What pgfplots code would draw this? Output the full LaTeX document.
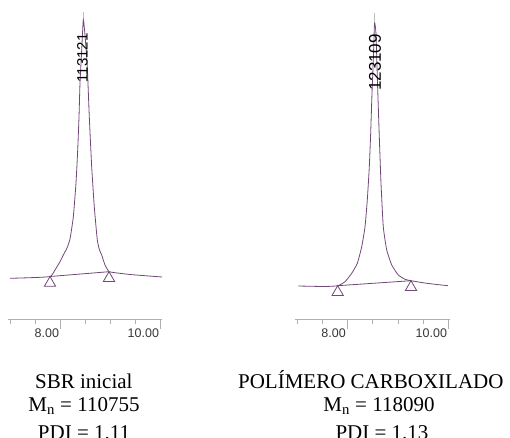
\documentclass[border=0pt]{standalone}
\usepackage{fontspec}
\setmainfont{Liberation Serif}
\newfontfamily\arial{Liberation Sans}
\usepackage{pgfplots}
\usepackage{pgfplotstable}
\pgfplotsset{compat=1.18}

\definecolor{trace}{RGB}{112,72,118}
\definecolor{axisgray}{RGB}{175,175,175}
\definecolor{pickgray}{RGB}{190,190,190}
\definecolor{labgray}{RGB}{55,55,55}

% SBR inicial: retention time (min) vs signal
\pgfplotstableread{
t y
6.986 40.7
7.386 41.3
7.786 42.5
7.886 49
7.986 57.3
8.052 64
8.126 71
8.186 80
8.252 102
8.306 136
8.340 169
8.366 202
8.386 236
8.420 269
8.452 299
8.486 284
8.532 252
8.572 202
8.620 152
8.672 112
8.732 79
8.776 69
8.820 64
8.886 54
8.966 47.3
9.026 46.7
9.386 44.5
10.026 42
}\sbrtrace

\pgfplotstableread{
t y
7.786 42.5
8.966 47.3
}\sbrbase

% polimero carboxilado
\pgfplotstableread{
t y
7.028 33
7.555 32.5
7.806 33.3
7.951 37.3
8.083 45.7
8.194 55.7
8.281 72.3
8.346 92.3
8.391 119
8.431 152.3
8.458 185.7
8.484 225.7
8.510 259
8.534 296
8.563 285
8.593 235.7
8.626 185.7
8.662 135.7
8.707 92.3
8.775 69
8.874 54
9.004 44
9.136 39.7
9.255 38.3
9.565 35.7
9.986 33.3
}\carbtrace

\pgfplotstableread{
t y
7.806 33.3
9.255 38.3
}\carbbase

\pgfplotsset{gpc/.style={
    scale only axis, clip=false,
    ymin=0, ymax=319, height=319pt,
    axis x line=bottom, axis y line=none,
    x axis line style={axisgray, -, line width=0.8pt},
    xtick={8,10}, xticklabels={8.00,10.00},
    minor xtick={7,7.5,8.5,9,9.5},
    tick align=outside,
    major tick length=10pt, minor tick length=5pt,
    tick style={axisgray, line width=0.7pt},
    xticklabel style={font=\arial\fontsize{12.5}{14}\selectfont, text=labgray,
        anchor=north east, inner sep=0pt, xshift=-1.5pt},
}}

\begin{document}
\begin{tikzpicture}
\useasboundingbox (0,0) rectangle (510pt,437pt);

\begin{axis}[gpc, at={(8pt,118pt)}, anchor=south west,
    width=154pt, xmin=6.946, xmax=10.026]
\draw[pickgray, line width=0.7pt] (axis cs:8.452,299) -- (axis cs:8.452,307.3);
\addplot[trace, line width=0.8pt, smooth, tension=0.3] table {\sbrtrace};
\addplot[trace, line width=0.8pt] table {\sbrbase};
\addplot[only marks, trace, mark=triangle, mark size=6.5pt,
    mark options={yshift=-6.5pt, line width=0.8pt, fill=white}] table {\sbrbase};
\node[rotate=90, inner sep=0pt, font=\arial\fontsize{15}{16}\selectfont]
    at (axis cs:8.436,261) {113121};
\end{axis}

\begin{axis}[gpc, at={(295pt,118pt)}, anchor=south west,
    width=155pt, xmin=6.9625, xmax=10.0257]
\draw[pickgray, line width=0.7pt] (axis cs:8.534,296) -- (axis cs:8.534,306);
\addplot[trace, line width=0.8pt, smooth, tension=0.3] table {\carbtrace};
\addplot[trace, line width=0.8pt] table {\carbbase};
\addplot[only marks, trace, mark=triangle, mark size=6.5pt,
    mark options={yshift=-6.5pt, line width=0.8pt, fill=white}] table {\carbbase};
\node[rotate=90, inner sep=0pt, font=\arial\fontsize{17}{18}\selectfont]
    at (axis cs:8.543,256.5) {123109};
\end{axis}

\begin{scope}[every node/.style={anchor=base, inner sep=0pt, font=\fontsize{21}{24}\selectfont}]
\node at (83.8pt,48.5pt) {SBR inicial};
\node at (84pt,25.5pt) {M\textsubscript{n} = 110755};
\node at (84pt,-2pt) {PDI = 1.11};
\node at (370.8pt,48.5pt) {POLÍMERO CARBOXILADO};
\node at (379pt,25.5pt) {M\textsubscript{n} = 118090};
\node at (382pt,-2pt) {PDI = 1.13};
\end{scope}
\end{tikzpicture}
\end{document}
